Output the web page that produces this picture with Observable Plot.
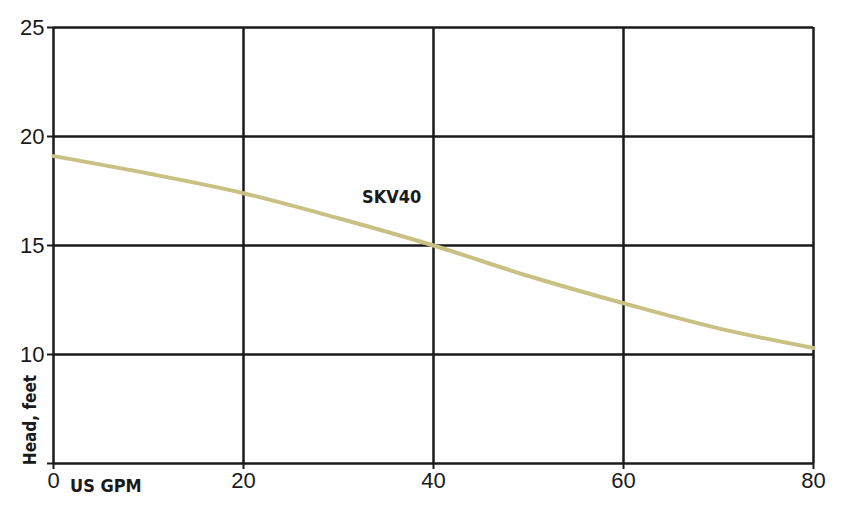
<!DOCTYPE html>
<html>
<head>
<meta charset="utf-8">
<script src="https://cdn.jsdelivr.net/npm/d3@7"></script>
<script src="https://cdn.jsdelivr.net/npm/@observablehq/plot@0.6"></script>
<style>
  html, body { margin: 0; padding: 0; background: #fff; }
  #chart svg { display: block; }
  #chart g[aria-label*="tick label"], #chart g[aria-label*="tick label"] text { font-size: 22px; }
</style>
</head>
<body>
<div id="chart"></div>
<script>
const flowGpm = [0, 10, 20, 30, 40, 50, 60, 70, 80];
const headFeet = [19.1, 18.3, 17.4, 16.25, 15.0, 13.6, 12.35, 11.2, 10.3];
const xTicks = [0, 20, 40, 60, 80];
const yTicks = [5, 10, 15, 20, 25];
const yTickLabels = ["", "10", "15", "20", "25"];
const seriesName = "SKV40";
const labelPos = [{x: 35.6, y: 17.2, text: seriesName}];

const curve = flowGpm.map((x, i) => ({x, y: headFeet[i]}));
const boldFont = "'Liberation Sans Narrow', 'DejaVu Sans Condensed', sans-serif";

const plot = Plot.plot({
  width: 850,
  height: 510,
  marginLeft: 53,
  marginRight: 37,
  marginTop: 27,
  marginBottom: 47,
  style: {fontFamily: "'Liberation Sans', Arial, sans-serif", background: "#fff", color: "#1a1a1a"},
  x: {domain: [0, 80]},
  y: {domain: [5, 25]},
  marks: [
    Plot.gridX(xTicks, {stroke: "#1a1a1a", strokeOpacity: 1, strokeWidth: 2.5}),
    Plot.gridY(yTicks, {stroke: "#1a1a1a", strokeOpacity: 1, strokeWidth: 2.5}),
    Plot.line(curve, {x: "x", y: "y", curve: "monotone-x", stroke: "#c9c084", strokeWidth: 4}),
    Plot.axisX(xTicks, {tickSize: 6, tickPadding: 3, fontSize: 22, stroke: "#1a1a1a", strokeWidth: 2, fill: "#1a1a1a", label: null}),
    Plot.axisY(yTicks, {tickSize: 6, tickPadding: 3, fontSize: 22, stroke: "#1a1a1a", strokeWidth: 2, fill: "#1a1a1a", label: null,
      tickFormat: (d) => yTickLabels[yTicks.indexOf(d)]}),
    Plot.text(labelPos, {x: "x", y: "y", text: "text", fontSize: 18, fontWeight: "bold", fontFamily: boldFont, fill: "#1a1a1a"})
  ]
});

const svg = d3.select(plot);
svg.append("text")
  .attr("x", 70).attr("y", 492)
  .attr("text-anchor", "start")
  .attr("font-family", boldFont).attr("font-weight", "bold").attr("font-size", 18)
  .attr("fill", "#1a1a1a")
  .text("US GPM");
svg.append("text")
  .attr("transform", "translate(36,420) rotate(-90)")
  .attr("text-anchor", "middle")
  .attr("font-family", boldFont).attr("font-weight", "bold").attr("font-size", 17)
  .attr("fill", "#1a1a1a")
  .text("Head, feet");

document.getElementById("chart").appendChild(plot);
</script>
</body>
</html>
